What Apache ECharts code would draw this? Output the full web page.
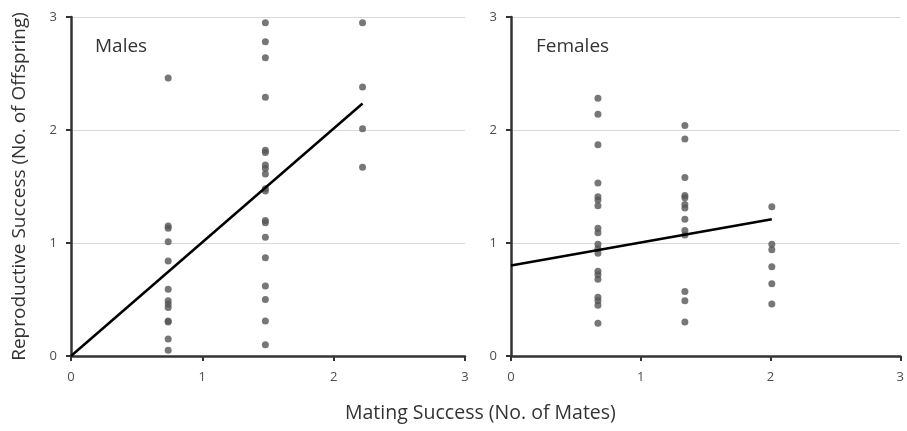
<!DOCTYPE html>
<html>
<head>
<meta charset="utf-8">
<script src="https://cdn.jsdelivr.net/npm/echarts@6/dist/echarts.min.js"></script>
<style>html,body{margin:0;padding:0;background:#fff;}#c{width:907px;height:431px;}</style>
</head>
<body>
<div id="c"></div>
<script>
var xTicks = [0, 1, 2, 3];
var yTicks = [0, 1, 2, 3];
var maleX = [0.74, 1.48, 2.22];
var maleCol1 = [2.46, 1.15, 1.13, 1.01, 0.84, 0.59, 0.49, 0.46, 0.43, 0.31, 0.30, 0.15, 0.05];
var maleCol2 = [2.95, 2.78, 2.64, 2.29, 1.82, 1.80, 1.69, 1.66, 1.61, 1.48, 1.46, 1.20, 1.18, 1.05, 0.87, 0.62, 0.50, 0.31, 0.10];
var maleCol3 = [2.95, 2.38, 2.01, 1.67];
var femaleX = [0.67, 1.34, 2.01];
var femaleCol1 = [2.28, 2.14, 1.87, 1.53, 1.41, 1.38, 1.33, 1.13, 1.09, 0.99, 0.95, 0.91, 0.75, 0.72, 0.68, 0.52, 0.49, 0.45, 0.29];
var femaleCol2 = [2.04, 1.92, 1.58, 1.42, 1.40, 1.34, 1.31, 1.21, 1.11, 1.07, 0.57, 0.49, 0.30];
var femaleCol3 = [1.32, 0.99, 0.94, 0.79, 0.64, 0.46];
var maleTrendX = [0, 2.22];
var maleTrendY = [0, 2.235];
var femaleTrendX = [0, 2.01];
var femaleTrendY = [0.80, 1.21];

function pts(x, ys) { return ys.map(function (y) { return [x, y]; }); }
var maleData = pts(maleX[0], maleCol1).concat(pts(maleX[1], maleCol2), pts(maleX[2], maleCol3));
var femaleData = pts(femaleX[0], femaleCol1).concat(pts(femaleX[1], femaleCol2), pts(femaleX[2], femaleCol3));
function line(xs, ys) { return xs.map(function (x, i) { return [x, ys[i]]; }); }

var FONT = 'Open Sans';
var axisCol = '#333333';
var labCol = '#4d4d4d';

function xAxis(idx) {
  return {
    type: 'value', gridIndex: idx, min: xTicks[0], max: xTicks[xTicks.length - 1], interval: 1,
    axisLine: { show: true, onZero: false, lineStyle: { color: axisCol, width: 2.5 } },
    axisTick: { show: true, length: 5, lineStyle: { color: axisCol, width: 2 } },
    axisLabel: { color: labCol, fontFamily: FONT, fontSize: 13, margin: 15 },
    splitLine: { show: false }
  };
}
function yAxis(idx, withName) {
  var a = {
    type: 'value', gridIndex: idx, min: yTicks[0], max: yTicks[yTicks.length - 1], interval: 1,
    axisLine: { show: true, onZero: false, lineStyle: { color: axisCol, width: 2.5 } },
    axisTick: { show: true, length: 5, lineStyle: { color: axisCol, width: 2 } },
    axisLabel: { color: labCol, fontFamily: FONT, fontSize: 13, margin: 14 },
    splitLine: { show: true, lineStyle: { color: '#d9d9d9', width: 1 } }
  };
  if (withName) {
    a.name = 'Reproductive Success (No. of Offspring)';
    a.nameLocation = 'middle';
    a.nameGap = 42;
    a.nameTextStyle = { color: '#333', fontFamily: FONT, fontSize: 19 };
  }
  return a;
}

var chart = echarts.init(document.getElementById('c'), null, { renderer: 'canvas' });
chart.setOption({
  animation: false,
  backgroundColor: '#ffffff',
  title: [
    { text: 'Males', left: 90, top: 32, textStyle: { fontFamily: FONT, fontSize: 19, fontWeight: 'normal', color: '#333' } },
    { text: 'Females', left: 531, top: 32, textStyle: { fontFamily: FONT, fontSize: 19, fontWeight: 'normal', color: '#333' } },
    { text: 'Mating Success (No. of Mates)', left: 340, top: 398, textStyle: { fontFamily: FONT, fontSize: 19.5, fontWeight: 'normal', color: '#333' } }
  ],
  grid: [
    { left: 71, width: 394, top: 17, height: 339 },
    { left: 511, width: 394, top: 17, height: 339 }
  ],
  xAxis: [xAxis(0), xAxis(1)],
  yAxis: [yAxis(0, true), yAxis(1, false)],
  series: [
    { type: 'scatter', xAxisIndex: 0, yAxisIndex: 0, data: maleData, symbolSize: 7, itemStyle: { color: '#555555' } },
    { type: 'scatter', xAxisIndex: 1, yAxisIndex: 1, data: femaleData, symbolSize: 7, itemStyle: { color: '#555555' } },
    { type: 'line', xAxisIndex: 0, yAxisIndex: 0, data: line(maleTrendX, maleTrendY), showSymbol: false, symbol: 'none', lineStyle: { color: '#000', width: 2.5 } },
    { type: 'line', xAxisIndex: 1, yAxisIndex: 1, data: line(femaleTrendX, femaleTrendY), showSymbol: false, symbol: 'none', lineStyle: { color: '#000', width: 2.5 } }
  ]
});
</script>
</body>
</html>
